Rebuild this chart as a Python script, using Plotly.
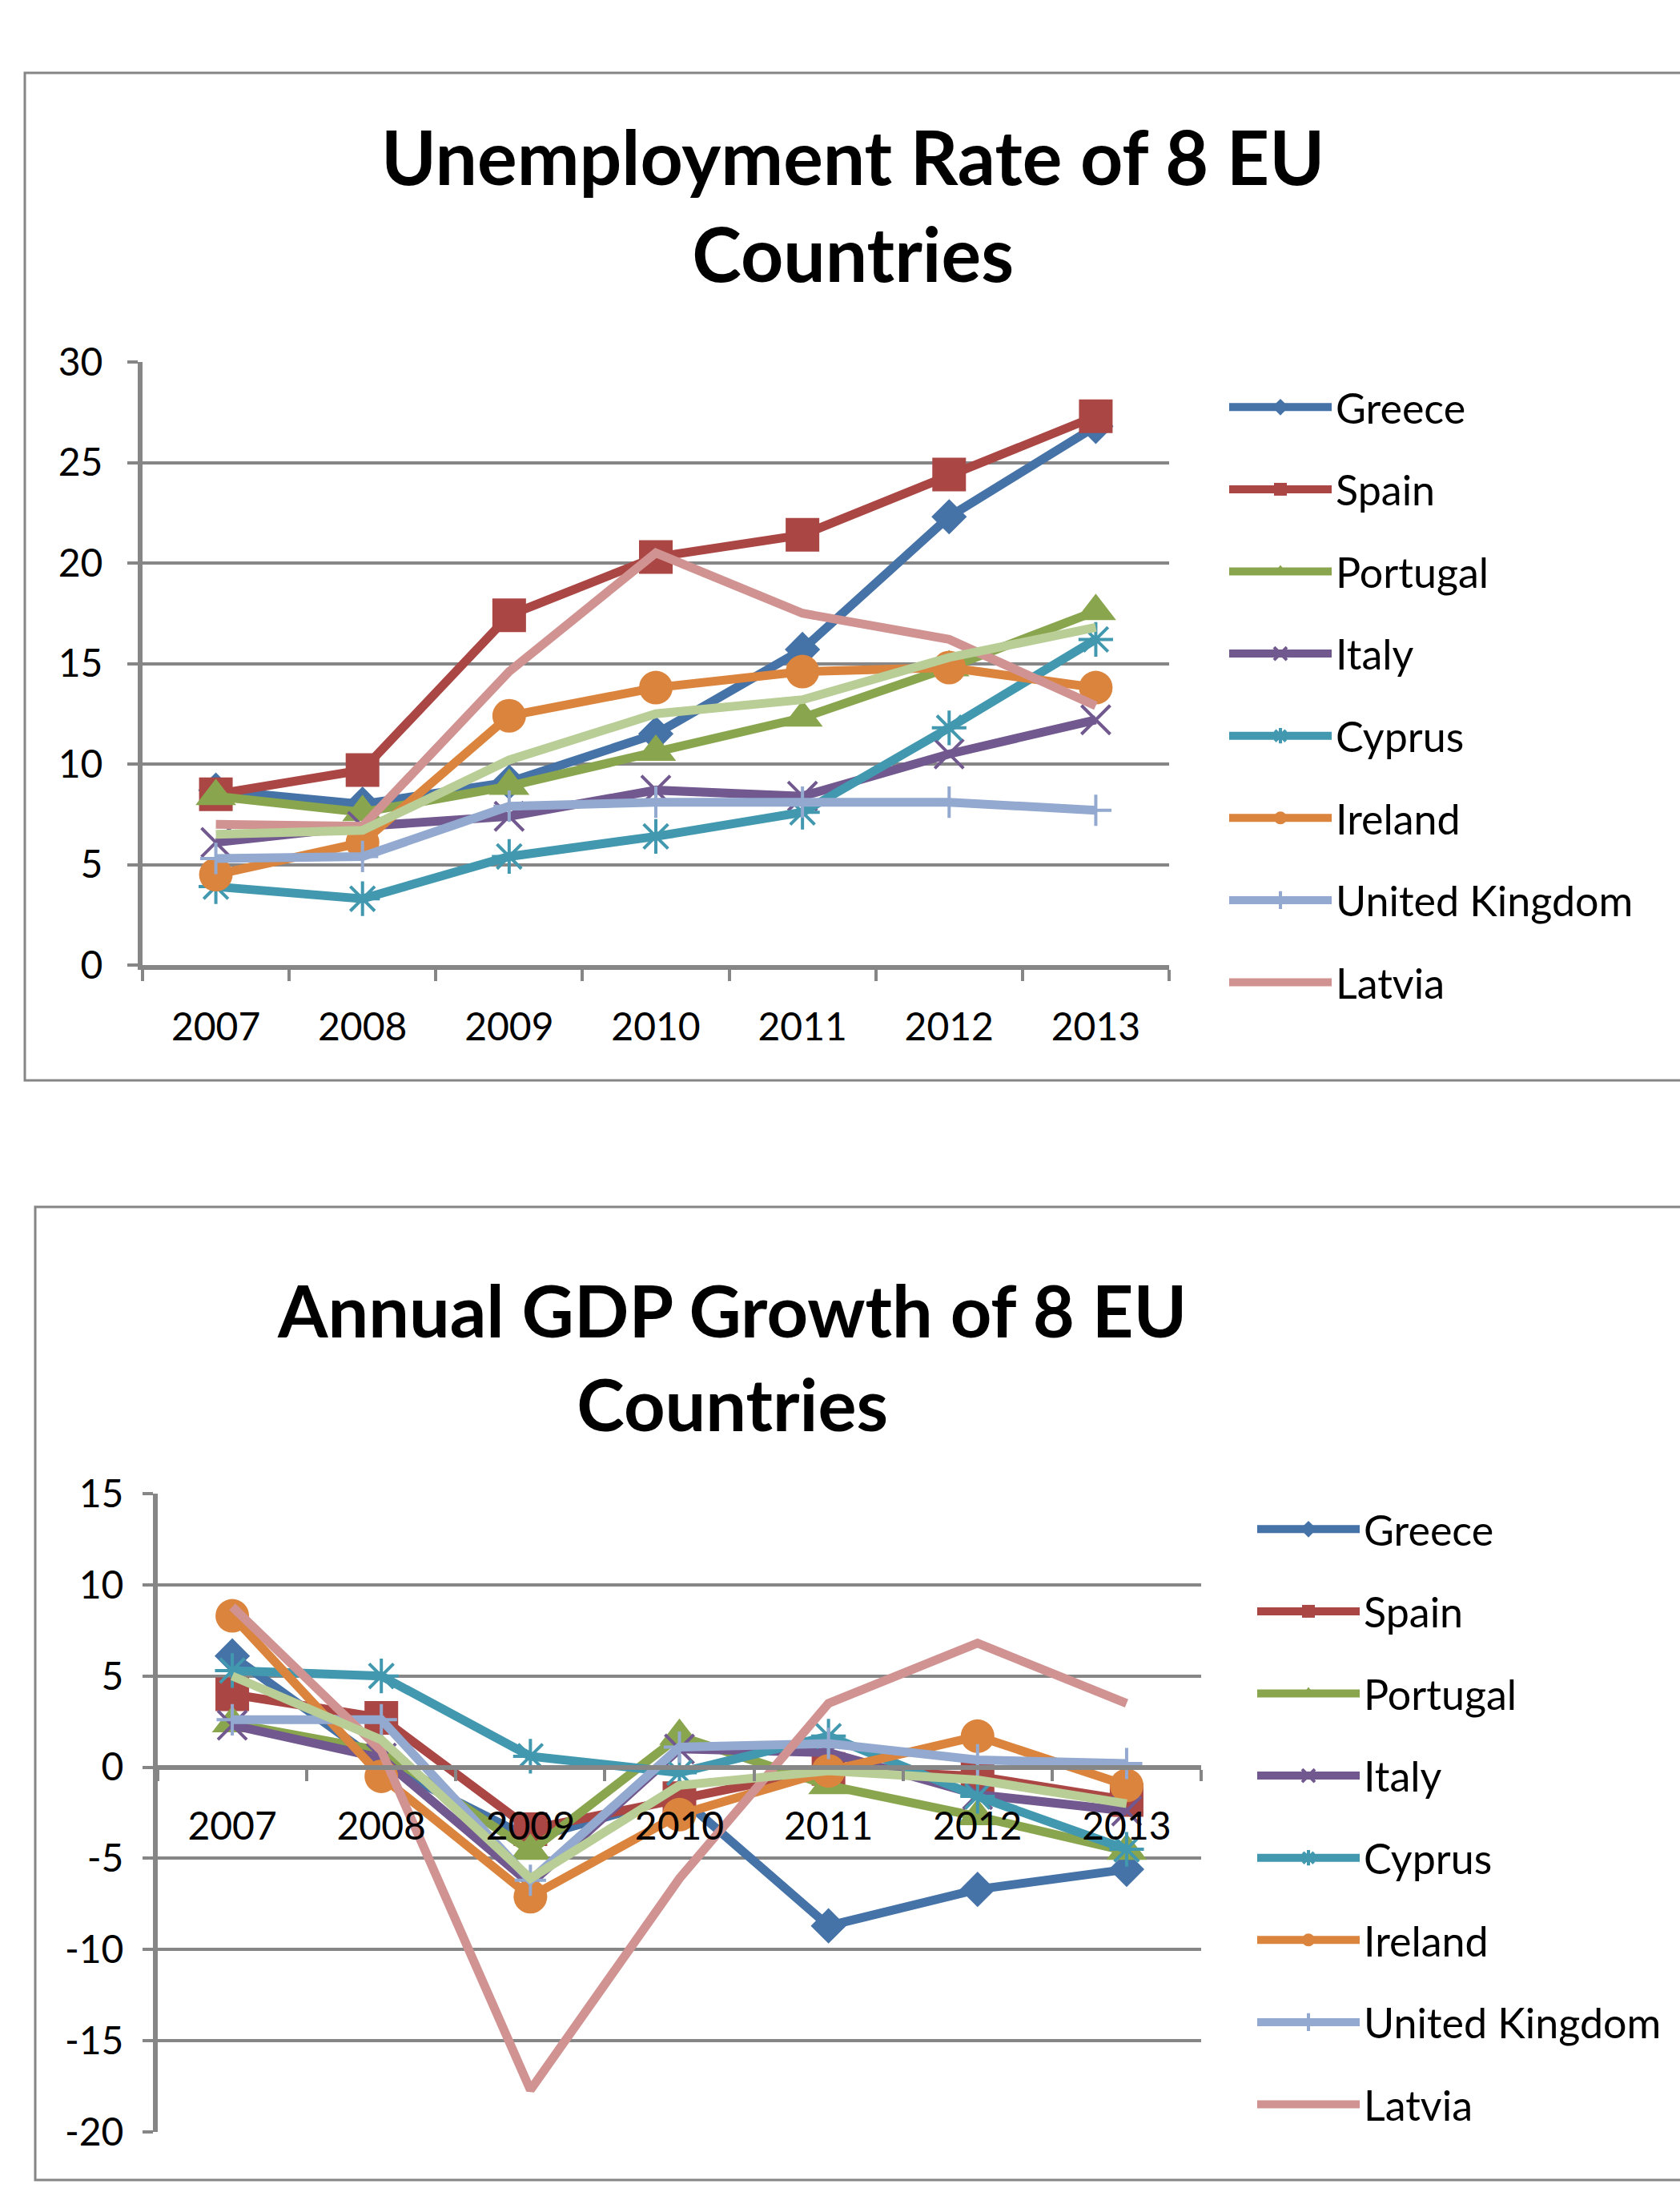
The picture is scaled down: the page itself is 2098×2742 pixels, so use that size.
import plotly.graph_objects as go

W, H = 2098, 2742

years = ["2007", "2008", "2009", "2010", "2011", "2012", "2013"]
countries = ["Greece", "Spain", "Portugal", "Italy", "Cyprus", "Ireland", "United Kingdom", "Latvia"]

# Unemployment rate (%)
unemp_greece = [8.7, 8.0, 9.1, 11.5, 15.7, 22.3, 26.8]
unemp_spain = [8.5, 9.7, 17.4, 20.3, 21.4, 24.4, 27.3]
unemp_portugal = [8.4, 7.6, 8.9, 10.6, 12.3, 14.8, 17.6]
unemp_italy = [6.1, 6.9, 7.4, 8.7, 8.4, 10.5, 12.2]
unemp_cyprus = [3.9, 3.3, 5.4, 6.4, 7.6, 11.8, 16.2]
unemp_ireland = [4.5, 6.1, 12.4, 13.8, 14.6, 14.8, 13.8]
unemp_uk = [5.3, 5.4, 7.9, 8.1, 8.1, 8.1, 7.7]
unemp_latvia = [7.0, 6.9, 14.6, 20.5, 17.5, 16.2, 12.9]
unemp_extra = [6.5, 6.7, 10.2, 12.5, 13.2, 15.3, 16.8]

# Annual GDP growth (%)
gdp_greece = [6.1, 0.2, -3.9, -1.6, -8.7, -6.7, -5.6]
gdp_spain = [4.0, 2.7, -3.4, -1.7, -0.1, -0.5, -1.8]
gdp_portugal = [2.4, 0.9, -4.6, 1.7, -1.0, -2.7, -4.6]
gdp_italy = [2.3, 0.5, -6.4, 1.0, 0.8, -1.5, -2.4]
gdp_cyprus = [5.3, 5.0, 0.6, -0.3, 1.7, -1.6, -4.5]
gdp_ireland = [8.3, -0.5, -7.1, -2.6, -0.2, 1.7, -1.0]
gdp_uk = [2.6, 2.6, -6.2, 1.1, 1.3, 0.4, 0.2]
gdp_latvia = [8.8, 0.9, -17.7, -6.1, 3.5, 6.8, 3.5]
gdp_extra = [5.0, 1.5, -6.1, -1.0, -0.2, -0.7, -2.0]

# axis ticks
unemp_ticks = [0, 5, 10, 15, 20, 25, 30]
unemp_ticktext = ["0", "5", "10", "15", "20", "25", "30"]
gdp_ticks = [-20, -15, -10, -5, 0, 5, 10, 15]
gdp_ticktext = ["-20", "-15", "-10", "-5", "0", "5", "10", "15"]

unemp_series = [unemp_greece, unemp_spain, unemp_portugal, unemp_italy, unemp_cyprus,
                unemp_ireland, unemp_uk, unemp_latvia]
gdp_series = [gdp_greece, gdp_spain, gdp_portugal, gdp_italy, gdp_cyprus,
              gdp_ireland, gdp_uk, gdp_latvia]

colors = ["#4572A7", "#AA4643", "#89A54E", "#71588F", "#4198AF", "#DB843D", "#93A9CF", "#D19392"]
extra_color = "#B9CD96"
symbols = ["diamond", "square", "triangle-up", "x-thin-open", "asterisk-open", "circle",
           "cross-thin-open", None]
sizes = [34, 42, 44, 36, 36, 42, 28, 0]

FONT = "Lato"
GRID = "#868686"


def px_x(p):
    return p / W


def px_y(p):
    return 1 - p / H


fig = go.Figure()


def add_traces(series, extra, xa, ya, legend, lw):
    for i, name in enumerate(countries):
        sym = symbols[i]
        if sym is None:
            mode = "lines"
            marker = None
        else:
            mode = "lines+markers"
            if sym.endswith("open"):
                marker = dict(symbol=sym, size=sizes[i], color=colors[i],
                              line=dict(width=4, color=colors[i]))
            else:
                marker = dict(symbol=sym, size=sizes[i], color=colors[i], line=dict(width=0))
        fig.add_trace(go.Scatter(
            x=years, y=series[i], name=name, mode=mode,
            line=dict(color=colors[i], width=lw),
            marker=marker, xaxis=xa, yaxis=ya, legend=legend,
            legendgroup=name + legend,
        ))
    fig.add_trace(go.Scatter(
        x=years, y=extra, mode="lines", line=dict(color=extra_color, width=lw),
        xaxis=xa, yaxis=ya, showlegend=False, hoverinfo="skip",
    ))


add_traces(unemp_series, unemp_extra, "x", "y", "legend", 11)
add_traces(gdp_series, gdp_extra, "x2", "y2", "legend2", 11)

tickfont = dict(family=FONT, size=48, color="black")

top_dom_x = [px_x(178), px_x(1460)]
top_dom_y = [px_y(1205), px_y(452)]
bot_dom_x = [px_x(197), px_x(1500)]
bot_dom_y = [px_y(2662), px_y(1865)]
bot_range = [-20, 15]
x2_pos = bot_dom_y[0] + (0 - bot_range[0]) / (bot_range[1] - bot_range[0]) * (bot_dom_y[1] - bot_dom_y[0])

common_x = dict(type="category", categoryorder="array", categoryarray=years,
                range=[-0.5, 6.5], showgrid=False, zeroline=False, automargin=False,
                showline=True, linecolor=GRID, linewidth=6,
                ticks="outside", tickson="boundaries", ticklen=14, tickwidth=4, tickcolor=GRID,
                tickfont=tickfont, fixedrange=True)
common_y = dict(showgrid=True, gridcolor=GRID, gridwidth=4, zeroline=False, automargin=False,
                showline=True, linecolor=GRID, linewidth=6, tickmode="array",
                ticks="outside", ticklen=13, tickwidth=4, tickcolor=GRID,
                tickfont=tickfont, fixedrange=True)

fig.update_layout(
    template="none",
    width=W, height=H, autosize=False,
    margin=dict(l=0, r=0, t=0, b=0, pad=0, autoexpand=False),
    paper_bgcolor="white", plot_bgcolor="white",
    xaxis=dict(domain=top_dom_x, anchor="y", ticklabelstandoff=30, **common_x),
    yaxis=dict(domain=top_dom_y, anchor="x", range=[0, 30], tickvals=unemp_ticks,
               ticktext=unemp_ticktext, ticklabelstandoff=21, **common_y),
    xaxis2=dict(domain=bot_dom_x, anchor="free", position=x2_pos, ticklabelstandoff=30, **common_x),
    yaxis2=dict(domain=bot_dom_y, anchor="x2", range=bot_range, tickvals=gdp_ticks,
                ticktext=gdp_ticktext, ticklabelstandoff=14, **common_y),
    legend=dict(x=px_x(1530), y=px_y(468), xanchor="left", yanchor="top",
                font=dict(family=FONT, size=52, color="black"),
                tracegroupgap=32, itemwidth=128, bgcolor="rgba(0,0,0,0)"),
    legend2=dict(x=px_x(1565), y=px_y(1869), xanchor="left", yanchor="top",
                 font=dict(family=FONT, size=52, color="black"),
                 tracegroupgap=32, itemwidth=128, bgcolor="rgba(0,0,0,0)"),
    showlegend=True,
    font=dict(family=FONT),
)

# chart area borders
fig.add_shape(type="rect", xref="paper", yref="paper",
              x0=px_x(31), x1=px_x(2110), y0=px_y(1349), y1=px_y(91),
              line=dict(color=GRID, width=3), layer="below")
fig.add_shape(type="rect", xref="paper", yref="paper",
              x0=px_x(44), x1=px_x(2110), y0=px_y(2722), y1=px_y(1507),
              line=dict(color=GRID, width=3), layer="below")

fig.add_annotation(text="<b>Unemployment Rate of 8 EU<br>Countries</b>",
                   xref="paper", yref="paper", x=px_x(1065), y=px_y(256),
                   xanchor="center", yanchor="middle", showarrow=False,
                   font=dict(family=FONT, size=93, color="black"))
fig.add_annotation(text="<b>Annual GDP Growth of 8 EU<br>Countries</b>",
                   xref="paper", yref="paper", x=px_x(914), y=px_y(1693),
                   xanchor="center", yanchor="middle", showarrow=False,
                   font=dict(family=FONT, size=90, color="black"))

fig.write_html("out.html")
